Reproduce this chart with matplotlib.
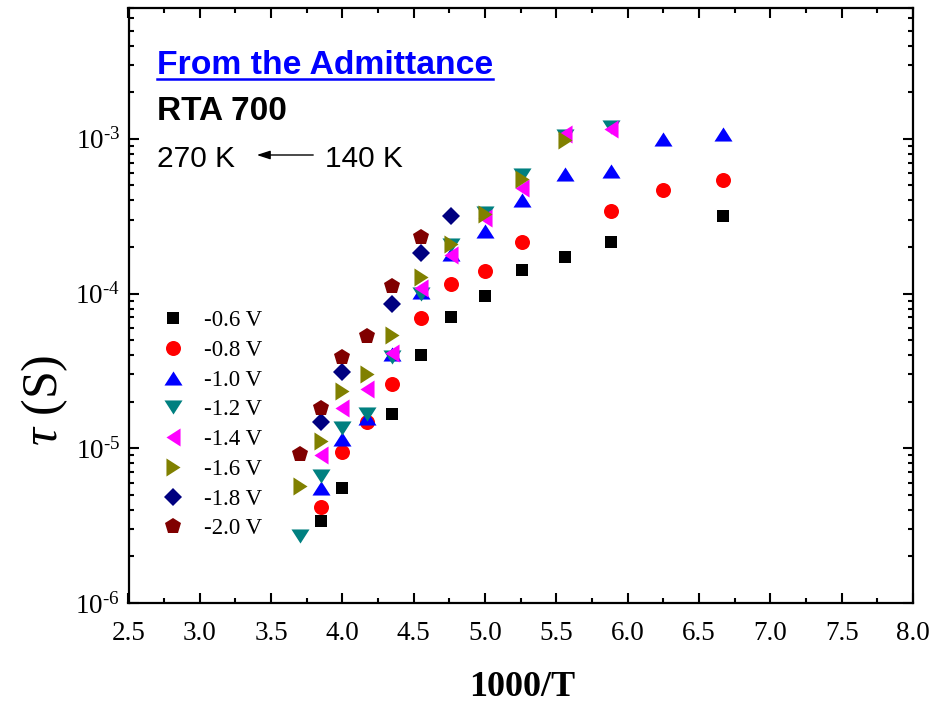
import math
import matplotlib
matplotlib.use("Agg")
import matplotlib.pyplot as plt
from matplotlib.ticker import LogLocator, NullFormatter, MultipleLocator
from matplotlib.lines import Line2D

plt.rcParams['font.family'] = ['Liberation Serif', 'DejaVu Serif']
plt.rcParams['mathtext.fontset'] = 'custom'
plt.rcParams['mathtext.rm'] = 'Liberation Serif'
plt.rcParams['mathtext.it'] = 'Liberation Serif:italic'
plt.rcParams['mathtext.bf'] = 'Liberation Serif:bold'

# ---- data (x = 1000/T, y = tau in s) ----
labels = ['-0.6 V', '-0.8 V', '-1.0 V', '-1.2 V', '-1.4 V', '-1.6 V', '-1.8 V', '-2.0 V']

x_06 = [3.85, 4.00, 4.35, 4.55, 4.76, 5.00, 5.26, 5.56, 5.88, 6.67]
y_06 = [3.4e-6, 5.5e-6, 1.66e-5, 4.0e-5, 7.0e-5, 9.6e-5, 1.41e-4, 1.72e-4, 2.15e-4, 3.15e-4]

x_08 = [3.85, 4.00, 4.17, 4.35, 4.55, 4.76, 5.00, 5.26, 5.88, 6.25, 6.67]
y_08 = [4.15e-6, 9.5e-6, 1.47e-5, 2.6e-5, 6.9e-5, 1.15e-4, 1.4e-4, 2.15e-4, 3.4e-4, 4.7e-4, 5.4e-4]

x_10 = [3.85, 4.00, 4.17, 4.35, 4.55, 4.76, 5.00, 5.26, 5.56, 5.88, 6.25, 6.67]
y_10 = [5.5e-6, 1.14e-5, 1.58e-5, 4.07e-5, 1.03e-4, 1.79e-4, 2.52e-4, 4.0e-4, 5.9e-4, 6.2e-4, 1.0e-3, 1.07e-3]

x_12 = [3.70, 3.85, 4.00, 4.17, 4.35, 4.55, 4.76, 5.00, 5.26, 5.56, 5.88]
y_12 = [2.7e-6, 6.6e-6, 1.35e-5, 1.66e-5, 3.88e-5, 1.0e-4, 2.06e-4, 3.31e-4, 5.8e-4, 1.04e-3, 1.19e-3]

x_14 = [3.85, 4.00, 4.17, 4.35, 4.55, 4.76, 5.00, 5.26, 5.56, 5.88]
y_14 = [9.0e-6, 1.82e-5, 2.42e-5, 4.12e-5, 1.08e-4, 1.77e-4, 3.07e-4, 4.81e-4, 1.07e-3, 1.15e-3]

x_16 = [3.70, 3.85, 4.00, 4.17, 4.35, 4.55, 4.76, 5.00, 5.26, 5.56]
y_16 = [5.7e-6, 1.11e-5, 2.36e-5, 3.02e-5, 5.42e-5, 1.28e-4, 2.09e-4, 3.26e-4, 5.5e-4, 9.75e-4]

x_18 = [3.85, 4.00, 4.35, 4.55, 4.76]
y_18 = [1.47e-5, 3.1e-5, 8.6e-5, 1.82e-4, 3.15e-4]

x_20 = [3.70, 3.85, 4.00, 4.17, 4.35, 4.55]
y_20 = [9.15e-6, 1.82e-5, 3.88e-5, 5.28e-5, 1.12e-4, 2.33e-4]

xs = [x_06, x_08, x_10, x_12, x_14, x_16, x_18, x_20]
ys = [y_06, y_08, y_10, y_12, y_14, y_16, y_18, y_20]

colors = ['#000000', '#FF0000', '#0000FF', '#008080', '#FF00FF', '#808000', '#000080', '#800000']
tri_up = [(-1, -0.78), (1, -0.78), (0, 0.78)]
tri_dn = [(-1, 0.78), (1, 0.78), (0, -0.78)]
tri_lf = [(0.78, -1), (0.78, 1), (-0.78, 0)]
tri_rt = [(-0.78, -1), (-0.78, 1), (0.78, 0)]
markers = ['s', 'o', tri_up, tri_dn, tri_lf, tri_rt, 'D', 'p']
msizes = [8.9, 10.8, 13.0, 13.0, 13.0, 13.0, 9.2, 12.0]

W, H = 936, 704
fig = plt.figure(figsize=(W / 100, H / 100), dpi=100)
L, R, T, B = 128.5, 913, 8, 603
ax = fig.add_axes([L / W, 1 - B / H, (R - L) / W, (B - T) / H])

for x, y, c, m, ms, lab in zip(xs, ys, colors, markers, msizes, labels):
    ax.plot(x, y, linestyle='none', marker=m, markersize=ms, color=c,
            markeredgewidth=0, label=lab)

ax.set_yscale('log')
ax.set_xlim(2.5, 8.0)
ax.set_ylim(1e-6, 7e-3)
ax.xaxis.set_major_locator(MultipleLocator(0.5))
ax.xaxis.set_minor_locator(MultipleLocator(0.25))
ax.xaxis.set_major_formatter(plt.FuncFormatter(lambda v, p: f'{v:.1f}'))
ax.yaxis.set_major_locator(LogLocator(base=10, numticks=10))
ax.yaxis.set_minor_locator(LogLocator(base=10, subs=range(2, 10), numticks=20))
ax.yaxis.set_minor_formatter(NullFormatter())
ax.yaxis.set_major_formatter(plt.FuncFormatter(
    lambda v, p: r'$\mathregular{10^{\text{-}%d}}$' % abs(round(math.log10(v)))))

for s in ax.spines.values():
    s.set_linewidth(1.6)
ax.tick_params(which='both', direction='in', top=True, right=True, width=1.5)
ax.tick_params(which='major', length=7.5, labelsize=19.5)
ax.tick_params(axis='x', which='major', pad=13)
ax.tick_params(axis='y', which='major', pad=6)
ax.tick_params(which='minor', length=3.8)

# axis labels
fig.text(522 / W, 1 - 687 / H, '1000/T', fontsize=26, fontweight='bold',
         ha='center', va='center')
fig.text(45 / W, 1 - 400 / H, r'$\tau$ (S)', fontsize=36, rotation=90,
         ha='center', va='center')

# legend
leg = ax.legend(loc='upper left', bbox_to_anchor=((159 - L) / (R - L), (B - 310) / (B - T)),
                frameon=False, fontsize=16.5, handlelength=1.2, handletextpad=0.75,
                labelspacing=0.38, borderaxespad=0, borderpad=0)

# annotations
sans = ['Liberation Sans', 'DejaVu Sans']
t1 = fig.text(157 / W, 1 - 65 / H, 'From the Admittance', fontsize=24.3, fontweight='bold',
              color='#0000FF', family=sans, ha='left', va='center')
fig.text(157 / W, 1 - 111 / H, 'RTA 700', fontsize=24, fontweight='bold',
         color='black', family=sans, ha='left', va='center')
fig.text(157 / W, 1 - 159 / H, '270 K', fontsize=21.5, family=sans, ha='left', va='center')
fig.text(325 / W, 1 - 159 / H, '140 K', fontsize=21.5, family=sans, ha='left', va='center')
fig.patches.append(matplotlib.patches.FancyArrowPatch(
    (316 / W, 1 - 155 / H), (254 / W, 1 - 155 / H), transform=fig.transFigure,
    arrowstyle='-|>,head_length=8,head_width=2.6', mutation_scale=1, linewidth=1.0, color='black'))

# underline for the blue title
fig.canvas.draw()
bb = t1.get_window_extent()
uy = bb.y0 + 2
fig.add_artist(Line2D([bb.x0 / W, bb.x1 / W], [uy / H, uy / H], transform=fig.transFigure,
                      color='#0000FF', linewidth=1.8))

fig.savefig('out.png', dpi=100)
